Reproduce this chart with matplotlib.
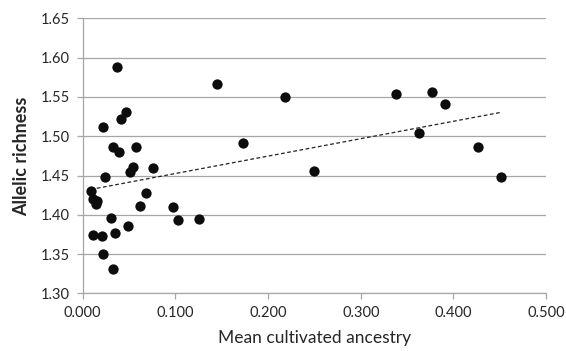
import matplotlib.pyplot as plt
import numpy as np

plt.rcParams["font.family"] = ["Lato", "DejaVu Sans"]

# mean cultivated ancestry vs allelic richness
ancestry = [
    0.037, 0.1446, 0.0464, 0.0417, 0.0216, 0.033, 0.0388, 0.0572, 0.173,
    0.0546, 0.051, 0.0762, 0.0241, 0.0086, 0.0683, 0.0114, 0.016, 0.014,
    0.0618, 0.0971, 0.1032, 0.1258, 0.0302, 0.0489, 0.0108, 0.0349, 0.0205,
    0.0223, 0.0324, 0.2187, 0.2493, 0.3378, 0.377, 0.3913, 0.3626, 0.4266,
    0.4514,
]
richness = [
    1.588, 1.567, 1.531, 1.5215, 1.512, 1.486, 1.4795, 1.486, 1.4915,
    1.461, 1.4544, 1.459, 1.4476, 1.4302, 1.428, 1.420, 1.4175, 1.4133,
    1.4107, 1.4094, 1.3933, 1.3946, 1.3954, 1.3853, 1.3746, 1.3764, 1.3725,
    1.3496, 1.331, 1.5502, 1.4553, 1.5533, 1.5558, 1.5409, 1.5044, 1.4858,
    1.448,
]
xticks = [0.0, 0.1, 0.2, 0.3, 0.4, 0.5]
yticks = [1.30, 1.35, 1.40, 1.45, 1.50, 1.55, 1.60, 1.65]

fig = plt.figure(figsize=(5.66, 3.51), dpi=100)
ax = fig.add_axes([0.146, 0.164, 0.819, 0.784])

x = np.array(ancestry)
y = np.array(richness)
ax.scatter(x, y, s=55, color="#0d0d0d", zorder=3, linewidths=0)

# linear trendline over the data range
k, b = np.polyfit(x, y, 1)
xs = np.array([x.min(), x.max()])
ax.plot(xs, k * xs + b, "--", color="#222222", lw=0.9, dashes=(3, 2), zorder=2)

ax.set_xlim(0, 0.5)
ax.set_ylim(1.30, 1.65)
ax.set_xticks(xticks)
ax.set_yticks(yticks)
ax.set_xticklabels([f"{v:.3f}" for v in xticks])
ax.set_yticklabels([f"{v:.2f}" for v in yticks])
ax.grid(axis="y", color="#a6a6a6", lw=0.9)
ax.set_axisbelow(True)
for s in ["top", "right"]:
    ax.spines[s].set_visible(False)
for s in ["left", "bottom"]:
    ax.spines[s].set_color("#a6a6a6")
    ax.spines[s].set_linewidth(0.9)
ax.tick_params(colors="#a6a6a6", labelcolor="#262626", labelsize=10.5, length=4, width=0.9)
ax.tick_params(axis="x", pad=5)
ax.tick_params(axis="y", pad=5)

ax.set_xlabel("Mean cultivated ancestry", fontsize=12.5, color="#262626", labelpad=7)
ax.set_ylabel("Allelic richness", fontsize=13, fontweight="bold", color="#262626", labelpad=8)

fig.savefig("out.png", dpi=100)
